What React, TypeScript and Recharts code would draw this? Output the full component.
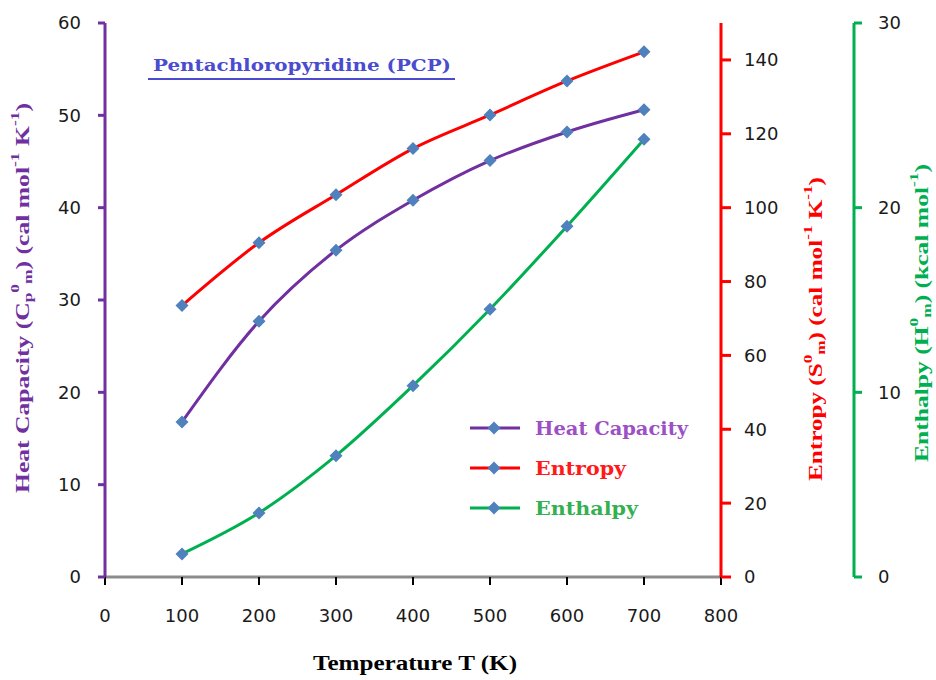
import React from 'react';
import { LineChart, Line, XAxis, YAxis, Legend } from 'recharts';

const temperatures = [100, 200, 300, 400, 500, 600, 700];
const heatCapacity = [16.8, 27.7, 35.4, 40.8, 45.1, 48.2, 50.6];
const entropy = [73.5, 90.5, 103.5, 116.0, 125.1, 134.3, 142.2];
const enthalpy = [1.25, 3.47, 6.57, 10.36, 14.5, 19.0, 23.7];

const xTicks = [0, 100, 200, 300, 400, 500, 600, 700, 800];
const cpTicks = [0, 10, 20, 30, 40, 50, 60];
const sTicks = [0, 20, 40, 60, 80, 100, 120, 140];
const hTicks = [0, 10, 20, 30];

const seriesNames = ['Heat Capacity', 'Entropy', 'Enthalpy'];
const seriesKeys = ['cp', 's', 'h'];

const data = temperatures.map((T, i) => ({
  T,
  cp: heatCapacity[i],
  s: entropy[i],
  h: enthalpy[i],
}));

const PURPLE = '#7030A0';
const RED = '#FF0000';
const GREEN = '#00B050';
const MARKER = '#4F81BD';
const legendTextColors: Record<string, string> = {
  cp: '#9C4FC6',
  s: '#FF1A1A',
  h: '#35B050',
};
const legendTextWidths: Record<string, number> = { cp: 153, s: 91, h: 103 };

const tickFont = { fontFamily: 'DejaVu Sans', fontSize: 18, fill: '#1a1a1a' };

const Diamond = (props: any) => {
  const { cx, cy, index } = props;
  if (cx == null || cy == null) return <g key={`n-${index}`} />;
  const r = 6.5;
  return (
    <path
      key={`d-${index}`}
      d={`M${cx},${cy - r} L${cx + r},${cy} L${cx},${cy + r} L${cx - r},${cy} Z`}
      fill={MARKER}
    />
  );
};

type Part = { t: string; sub?: boolean; sup?: boolean };

const renderParts = (parts: Part[], fs: number) => {
  let cur = 0;
  return parts.map((p, i) => {
    const target = p.sup ? -0.42 * fs : p.sub ? 0.28 * fs : 0;
    const dy = target - cur;
    cur = target;
    return (
      <tspan key={i} dy={dy} fontSize={p.sup || p.sub ? fs * 0.68 : fs}>
        {p.t}
      </tspan>
    );
  });
};

const makeVLabel =
  (parts: Part[], color: string, dx: number, dyCenter: number, length: number, fs: number) =>
  (props: any) => {
    const vb = props.viewBox || {};
    const cx = (vb.x ?? 0) + dx;
    const cy = (vb.y ?? 0) + dyCenter;
    return (
      <text
        x={cx}
        y={cy}
        transform={`rotate(-90 ${cx} ${cy})`}
        textAnchor="middle"
        dominantBaseline="central"
        fill={color}
        fontFamily="Liberation Serif"
        fontWeight="bold"
        fontSize={fs}
        textLength={length}
        lengthAdjust="spacingAndGlyphs"
      >
        {renderParts(parts, fs)}
      </text>
    );
  };

const cpLabelParts: Part[] = [
  { t: 'Heat Capacity (C' },
  { t: 'p', sub: true },
  { t: '0', sup: true },
  { t: 'm', sub: true },
  { t: ') (cal mol' },
  { t: '-1', sup: true },
  { t: ' K' },
  { t: '-1', sup: true },
  { t: ')' },
];
const sLabelParts: Part[] = [
  { t: 'Entropy (S' },
  { t: '0', sup: true },
  { t: 'm', sub: true },
  { t: ') (cal mol' },
  { t: '-1', sup: true },
  { t: ' K' },
  { t: '-1', sup: true },
  { t: ')' },
];
const hLabelParts: Part[] = [
  { t: 'Enthalpy (H' },
  { t: '0', sup: true },
  { t: 'm', sub: true },
  { t: ') (kcal mol' },
  { t: '-1', sup: true },
  { t: ')' },
];

const XLabel = (props: any) => {
  const vb = props.viewBox || {};
  return (
    <text
      x={415}
      y={(vb.y ?? 577) + 93}
      textAnchor="middle"
      fill="#000"
      fontFamily="Liberation Serif"
      fontWeight="bold"
      fontSize={20}
      textLength={204}
      lengthAdjust="spacingAndGlyphs"
    >
      Temperature T (K)
    </text>
  );
};

const LegendContent = (props: any) => {
  const payload = [...(props.payload || [])].sort(
    (a: any, b: any) => seriesKeys.indexOf(a.dataKey) - seriesKeys.indexOf(b.dataKey)
  );
  return (
    <svg width={270} height={125} style={{ display: 'block', overflow: 'visible' }}>
      {payload.map((entry: any, i: number) => {
        const y = 23 + i * 40;
        const key = entry.dataKey as string;
        const r = 6.5;
        return (
          <g key={key}>
            <line x1={15} x2={65} y1={y} y2={y} stroke={entry.color} strokeWidth={3} />
            <path d={`M39,${y - r} L${39 + r},${y} L39,${y + r} L${39 - r},${y} Z`} fill={MARKER} />
            <text
              x={80}
              y={y}
              dominantBaseline="central"
              fill={legendTextColors[key]}
              fontFamily="DejaVu Serif"
              fontWeight="bold"
              fontSize={18}
              textLength={legendTextWidths[key]}
              lengthAdjust="spacingAndGlyphs"
            >
              {entry.value}
            </text>
          </g>
        );
      })}
    </svg>
  );
};

export default function App() {
  return (
    <div style={{ position: 'absolute', left: 0, top: 0, width: 936, height: 680, background: '#fff' }}>
      <LineChart
        width={936}
        height={680}
        data={data}
        margin={{ top: 23, right: 0, bottom: 0, left: 10 }}
      >
        <XAxis
          dataKey="T"
          type="number"
          domain={[0, 800]}
          ticks={xTicks}
          interval={0}
          height={103}
          axisLine={{ stroke: '#8c8c8c', strokeWidth: 3 }}
          tickLine={{ stroke: '#000', strokeWidth: 2 }}
          tickSize={8}
          tickMargin={24}
          tick={tickFont}
          label={{ content: XLabel } as any}
        />
        <YAxis
          yAxisId="cp"
          orientation="left"
          domain={[0, 60]}
          ticks={cpTicks}
          interval={0}
          width={95}
          axisLine={{ stroke: PURPLE, strokeWidth: 3 }}
          tickLine={{ stroke: PURPLE, strokeWidth: 3 }}
          tickSize={7}
          tickMargin={17}
          tick={tickFont}
          label={{ content: makeVLabel(cpLabelParts, PURPLE, 13, 275, 390, 18) } as any}
        />
        <YAxis
          yAxisId="r1"
          orientation="right"
          domain={[0, 150]}
          ticks={sTicks}
          interval={0}
          width={133}
          axisLine={{ stroke: RED, strokeWidth: 3 }}
          tickLine={{ stroke: RED, strokeWidth: 3 }}
          tickSize={10}
          tickMargin={13}
          tick={tickFont}
          label={{ content: makeVLabel(sLabelParts, RED, 95, 306, 304, 18) } as any}
        />
        <YAxis
          yAxisId="r2"
          orientation="right"
          domain={[0, 30]}
          ticks={hTicks}
          interval={0}
          width={82}
          axisLine={{ stroke: GREEN, strokeWidth: 3 }}
          tickLine={{ stroke: GREEN, strokeWidth: 3 }}
          tickSize={8}
          tickMargin={16}
          tick={tickFont}
          label={{ content: makeVLabel(hLabelParts, GREEN, 68, 290, 298, 18) } as any}
        />
        <Line
          yAxisId="cp"
          dataKey="cp"
          name={seriesNames[0]}
          type="monotone"
          stroke={PURPLE}
          strokeWidth={3}
          dot={Diamond}
          activeDot={false}
          isAnimationActive={false}
        />
        <Line
          yAxisId="r1"
          dataKey="s"
          name={seriesNames[1]}
          type="monotone"
          stroke={RED}
          strokeWidth={3}
          dot={Diamond}
          activeDot={false}
          isAnimationActive={false}
        />
        <Line
          yAxisId="r2"
          dataKey="h"
          name={seriesNames[2]}
          type="monotone"
          stroke={GREEN}
          strokeWidth={3}
          dot={Diamond}
          activeDot={false}
          isAnimationActive={false}
        />
        <Legend
          layout="vertical"
          align="center"
          verticalAlign="middle"
          content={LegendContent}
          wrapperStyle={{ position: 'absolute', left: 455, top: 405, width: 270, height: 125 }}
        />
      </LineChart>
      <svg
        width={936}
        height={680}
        style={{ position: 'absolute', left: 0, top: 0, pointerEvents: 'none' }}
      >
        <text
          x={153}
          y={71}
          fill="#4B4BD0"
          fontFamily="DejaVu Serif"
          fontWeight="bold"
          fontSize={16}
          textLength={298}
          lengthAdjust="spacingAndGlyphs"
        >
          Pentachloropyridine (PCP)
        </text>
        <line x1={148} x2={455} y1={79} y2={79} stroke="#4B4BD0" strokeWidth={2} />
      </svg>
    </div>
  );
}
